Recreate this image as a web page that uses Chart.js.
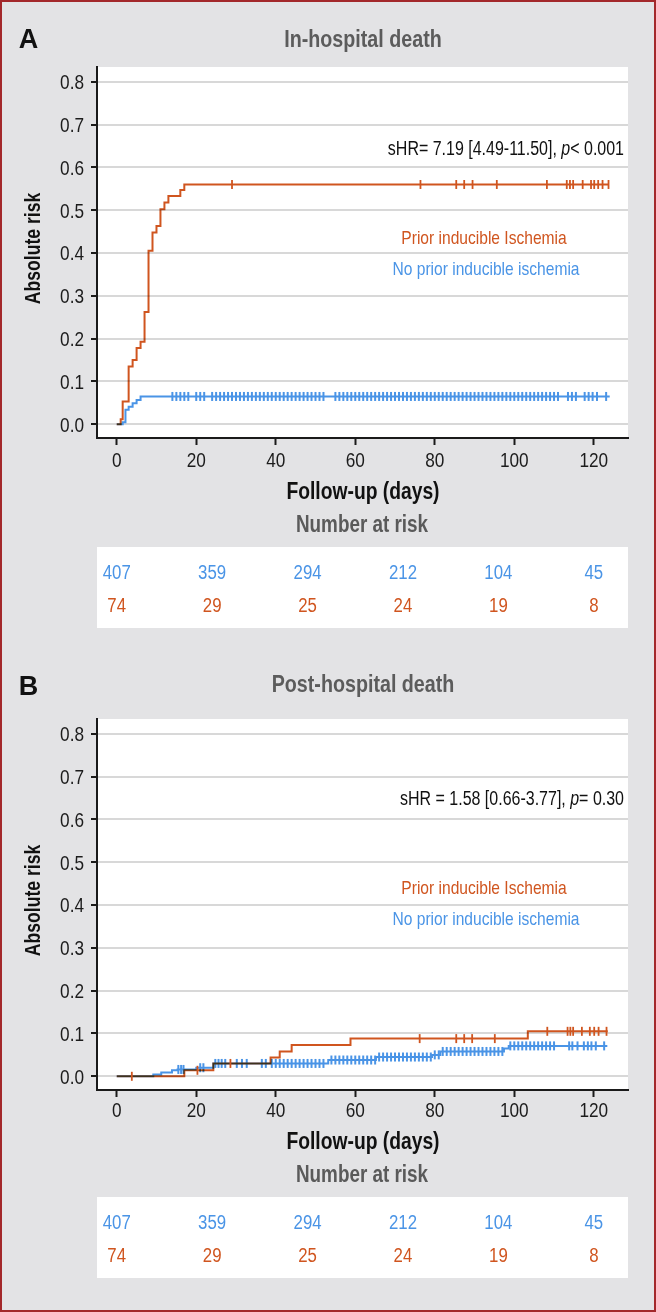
<!DOCTYPE html>
<html>
<head>
<meta charset="utf-8">
<script src="https://cdn.jsdelivr.net/npm/chart.js@4.4.0/dist/chart.umd.min.js"></script>
<style>
  html, body { margin: 0; padding: 0; background: #e3e3e5; }
  #frame { position: relative; width: 656px; height: 1312px; box-sizing: border-box;
           border: 2px solid #a3282b; background: #e3e3e5; overflow: hidden; }
  .panel { position: absolute; left: -2px; width: 656px; height: 656px; }
</style>
</head>
<body>
<div id="frame">
  <div class="panel" style="top:-2px"><canvas id="chartA" width="656" height="656"></canvas></div>
  <div class="panel" style="top:650px"><canvas id="chartB" width="656" height="656"></canvas></div>
</div>
<script>
// ---- data ----
const dayTicks = [0, 20, 40, 60, 80, 100, 120];
const riskTicks = [0, 0.1, 0.2, 0.3, 0.4, 0.5, 0.6, 0.7, 0.8];
const atRiskDays = [0, 24, 48, 72, 96, 120];
const atRiskNoPrior = [407, 359, 294, 212, 104, 45];
const atRiskPrior = [74, 29, 25, 24, 19, 8];

// panel A: in-hospital death
const aPriorDays = [0, 1, 1.5, 3, 4, 5, 6, 7, 8, 9, 10, 11, 12, 13, 16, 17, 123.7];
const aPriorRisk = [0, 0.012, 0.053, 0.135, 0.15, 0.178, 0.193, 0.262, 0.405, 0.448, 0.463, 0.502, 0.518, 0.533, 0.547, 0.56, 0.56];
const aPriorCensor = [29, 76.4, 85.4, 87.4, 89.5, 95.6, 108.2, 113.2, 114, 114.8, 117.2, 119.3, 120.1, 121.1, 122.2, 123.7];
const aNoPriorDays = [0, 1.5, 2.2, 3, 4, 5, 6, 124];
const aNoPriorRisk = [0, 0.005, 0.034, 0.041, 0.049, 0.057, 0.065, 0.065];
const aNoPriorCensor = [14, 15, 16, 17, 18, 20, 21, 22, 24, 25, 26, 27, 28, 29, 30, 31, 32, 33, 34, 35, 36, 37,
  38, 39, 40, 41, 42, 43, 44, 45, 46, 47, 48, 49, 50, 51, 52, 55, 56, 57, 58, 59, 60, 61, 62, 63, 64, 65, 66,
  67, 68, 69, 70, 71, 72, 73, 74, 75, 76, 77, 78, 79, 80, 81, 82, 83, 84, 85, 86, 87, 88, 89, 90, 91, 92, 93,
  94, 95, 96, 97, 98, 99, 100, 101, 102, 103, 104, 105, 106, 107, 108, 109, 110, 111, 113.5, 114.5, 115.5,
  117.7, 118.7, 119.7, 120.8, 123.1];

// panel B: post-hospital death
const bPriorDays = [0, 17, 24.3, 38.7, 41, 44, 58.8, 103.4, 123.5];
const bPriorRisk = [0, 0.014, 0.03, 0.044, 0.058, 0.073, 0.088, 0.105, 0.105];
const bPriorCensor = [3.8, 20.3, 28.6, 76.2, 85.4, 87.4, 89.4, 95.1, 108.3, 113.4, 114.1, 114.8, 117, 119, 120.1, 121.2, 123.2];
const bNoPriorDays = [0, 9.2, 11.2, 13.9, 15.3, 20, 24.3, 53.2, 65.2, 79.3, 81.4, 97.4, 98.6, 123.4];
const bNoPriorRisk = [0, 0.004, 0.009, 0.014, 0.016, 0.02, 0.03, 0.038, 0.045, 0.05, 0.058, 0.065, 0.071, 0.071];
const bNoPriorCensor = [15.5, 16.2, 16.8, 21, 21.8, 24.8, 25.6, 26.4, 27.3, 30.2, 31.5, 32.7, 36.5, 37.5, 39, 40,
  41, 42, 43, 44, 45, 46, 47, 48, 49, 50, 51, 52, 54, 55, 56, 57, 58, 59, 60, 61, 62, 63, 64, 65, 66, 67, 68, 69,
  70, 71, 72, 73, 74, 75, 76, 77, 78, 79, 80, 81, 82, 83, 84, 85, 86, 87, 88, 89, 90, 91, 92, 93, 94, 95, 96, 97,
  99, 100, 101, 102, 103, 104, 105, 106, 107, 108, 109, 110, 113.8, 114.6, 115.9, 117.5, 118.5, 119.4, 120.5, 122.6];

const BLUE = '#4a94e6';
const RED = '#d0551f';
const SANS = "'Liberation Sans', Arial, sans-serif";
const SQUEEZE = 0.82; // no condensed face installed, so squeeze Liberation Sans

function toPoints(days, risks) {
  return days.map((d, i) => ({ x: d, y: risks[i] }));
}
// y of a censor mark = value of the step curve at that day
function censorPoints(censor, days, risks) {
  return censor.map(t => {
    let v = risks[0];
    for (let i = 0; i < days.length; i++) if (days[i] <= t) v = risks[i];
    return { x: t, y: v };
  });
}

// narrow text: parts = [[text, italic], ...], align 'left' | 'center' | 'right'
function narrow(ctx, parts, x, y, size, weight, color, align) {
  if (typeof parts === 'string') parts = [[parts, false]];
  const fontOf = p => (p[1] ? 'italic ' : '') + (weight || '') + ' ' + size + 'px ' + SANS;
  let total = 0;
  parts.forEach(p => { ctx.font = fontOf(p); total += ctx.measureText(p[0]).width; });
  let start = align === 'right' ? -total : align === 'center' ? -total / 2 : 0;
  ctx.save();
  ctx.translate(x, y);
  ctx.scale(SQUEEZE, 1);
  ctx.fillStyle = color;
  ctx.textAlign = 'left';
  ctx.textBaseline = 'alphabetic';
  parts.forEach(p => {
    ctx.font = fontOf(p);
    ctx.fillText(p[0], start, 0);
    start += ctx.measureText(p[0]).width;
  });
  ctx.restore();
}

const plotBg = {
  id: 'plotBg',
  beforeDraw(chart) {
    const { ctx, chartArea: a } = chart;
    ctx.save();
    ctx.fillStyle = '#ffffff';
    ctx.fillRect(a.left, a.top, a.right - a.left, a.bottom - a.top);
    ctx.restore();
  }
};

// red curve multiplies over blue so the shared stretches come out dark
const blend = {
  id: 'blend',
  beforeDatasetDraw(chart, args) {
    if (args.meta._dataset.blend) { chart.ctx.save(); chart.ctx.globalCompositeOperation = 'multiply'; }
  },
  afterDatasetDraw(chart, args) {
    if (args.meta._dataset.blend) chart.ctx.restore();
  }
};

function textLayer(cfg) {
  return {
    id: 'textLayer',
    afterDraw(chart) {
      const { ctx, chartArea: a } = chart;
      const xs = chart.scales.x, ys = chart.scales.y;
      const dy = cfg.dy;
      // tick labels
      ys.ticks.forEach(t => {
        narrow(ctx, t.value.toFixed(1), 84, ys.getPixelForValue(t.value) + 7.5, 21, '', '#1c1c1c', 'right');
      });
      xs.ticks.forEach(t => {
        narrow(ctx, String(t.value), xs.getPixelForValue(t.value), 467 + dy, 21, '', '#1c1c1c', 'center');
      });
      // panel letter + title
      ctx.save();
      ctx.fillStyle = '#111';
      ctx.textAlign = 'center';
      ctx.font = 'bold 27px ' + SANS;
      ctx.fillText(cfg.letter, 28.5, cfg.letterY);
      ctx.restore();
      narrow(ctx, cfg.title, 363, cfg.titleY, 24, 'bold', '#5c5c5c', 'center');
      // y title
      ctx.save();
      ctx.translate(40, (a.top + a.bottom) / 2 - 4);
      ctx.rotate(-Math.PI / 2);
      narrow(ctx, 'Absolute risk', 0, 0, 21.5, 'bold', '#111', 'center');
      ctx.restore();
      // hazard ratio + in-plot legend
      narrow(ctx, cfg.hr, 624, 155 + dy, 19.5, '', '#111', 'right');
      narrow(ctx, 'Prior inducible Ischemia', 484, 244 + dy, 19, '', RED, 'center');
      narrow(ctx, 'No prior inducible ischemia', 486, 275 + dy, 19, '', BLUE, 'center');
      // x title
      narrow(ctx, 'Follow-up (days)', 363, 499 + dy, 23.5, 'bold', '#111', 'center');
      narrow(ctx, 'Number at risk', 362, 532 + dy, 23, 'bold', '#5a5a5a', 'center');
      // number at risk table
      ctx.save();
      ctx.fillStyle = '#ffffff';
      ctx.fillRect(a.left, 547 + dy, a.right - a.left, 81);
      ctx.restore();
      atRiskDays.forEach((d, i) => {
        const px = xs.getPixelForValue(d);
        narrow(ctx, String(atRiskNoPrior[i]), px, 579 + dy, 20.5, '', BLUE, 'center');
        narrow(ctx, String(atRiskPrior[i]), px, 611.5 + dy, 20.5, '', RED, 'center');
      });
    }
  };
}

function makePanel(id, cfg) {
  return new Chart(document.getElementById(id), {
    type: 'line',
    data: {
      datasets: [
        { data: toPoints(cfg.blueDays, cfg.blueRisk), borderColor: BLUE, borderWidth: 2,
          stepped: 'before', pointRadius: 0, fill: false, order: 4 },
        { type: 'scatter', data: censorPoints(cfg.blueCensor, cfg.blueDays, cfg.blueRisk), showLine: false,
          pointStyle: 'line', rotation: 90, pointRadius: 4.5, borderColor: BLUE, borderWidth: 2, order: 3 },
        { data: toPoints(cfg.redDays, cfg.redRisk), borderColor: RED, borderWidth: 2,
          stepped: 'before', pointRadius: 0, fill: false, order: 2, blend: true },
        { type: 'scatter', data: censorPoints(cfg.redCensor, cfg.redDays, cfg.redRisk), showLine: false,
          pointStyle: 'line', rotation: 90, pointRadius: 4.5, borderColor: RED, borderWidth: 1.8, order: 1 }
      ]
    },
    options: {
      responsive: false,
      animation: false,
      layout: { autoPadding: false, padding: { left: 0, top: 67, right: 28, bottom: 188 } },
      plugins: { legend: { display: false }, tooltip: { enabled: false } },
      scales: {
        x: {
          type: 'linear', min: -4.96, max: 128.6,
          afterBuildTicks: s => { s.ticks = dayTicks.map(v => ({ value: v })); },
          afterFit: s => { s.height = 30; },
          grid: { drawOnChartArea: false, tickLength: 7, tickColor: '#1a1a1a', tickWidth: 2 },
          border: { color: '#1a1a1a', width: 2 },
          ticks: { display: false }
        },
        y: {
          min: -0.032, max: 0.8343,
          afterBuildTicks: s => { s.ticks = riskTicks.map(v => ({ value: v })); },
          afterFit: s => { s.width = 97; },
          grid: { color: '#d8d8d8', lineWidth: 2, tickColor: '#1a1a1a', tickLength: 6, tickWidth: 2 },
          border: { color: '#1a1a1a', width: 2 },
          ticks: { display: false }
        }
      }
    },
    plugins: [plotBg, blend, textLayer(cfg)]
  });
}

makePanel('chartA', {
  letter: 'A', title: 'In-hospital death', letterY: 48, titleY: 47, dy: 0,
  hr: [['sHR= 7.19 [4.49-11.50], ', false], ['p', true], ['< 0.001', false]],
  redDays: aPriorDays, redRisk: aPriorRisk, redCensor: aPriorCensor,
  blueDays: aNoPriorDays, blueRisk: aNoPriorRisk, blueCensor: aNoPriorCensor
});
makePanel('chartB', {
  letter: 'B', title: 'Post-hospital death', letterY: 43, titleY: 40, dy: -2,
  hr: [['sHR = 1.58 [0.66-3.77], ', false], ['p', true], ['= 0.30', false]],
  redDays: bPriorDays, redRisk: bPriorRisk, redCensor: bPriorCensor,
  blueDays: bNoPriorDays, blueRisk: bNoPriorRisk, blueCensor: bNoPriorCensor
});
</script>
</body>
</html>
